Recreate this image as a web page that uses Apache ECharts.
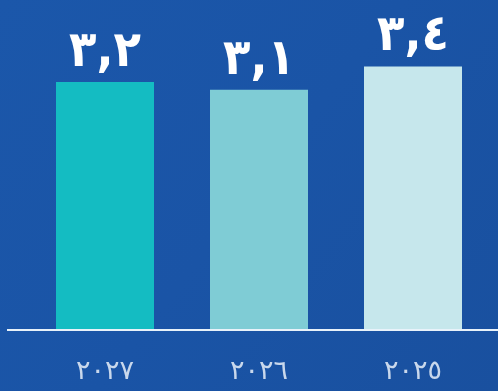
<!DOCTYPE html>
<html><head><meta charset="utf-8">
<script src="https://cdn.jsdelivr.net/npm/echarts@6/dist/echarts.min.js"></script>
<style>html,body{margin:0;padding:0;background:#1a53a5;}#c{width:498px;height:391px;}</style>
</head><body><div id="c"></div>
<script>
const categories = ['٢٠٢٧', '٢٠٢٦', '٢٠٢٥'];
const values = [3.2, 3.1, 3.4];
const valueLabels = ['٣,٢', '٣,١', '٣,٤'];
const barColors = ['#14bcc2', '#7fccd5', '#c6e7ec'];

const chart = echarts.init(document.getElementById('c'), null, {renderer: 'canvas'});
chart.setOption({
  backgroundColor: {
    type: 'linear', x: 0, y: 0, x2: 1, y2: 1,
    colorStops: [{offset: 0, color: '#1b57aa'}, {offset: 0.5, color: '#1a54a6'}, {offset: 1, color: '#19509f'}]
  },
  animation: false,
  grid: {left: 28, right: 8, top: 20, bottom: 61},
  xAxis: {
    type: 'category', data: categories,
    axisLine: {show: false}, axisTick: {show: false},
    axisLabel: {color: '#c9d8ec', fontSize: 27, fontFamily: 'DejaVu Sans', margin: 28}
  },
  yAxis: {type: 'value', min: 0, max: 4, show: false, splitLine: {show: false}},
  graphic: [{
    type: 'line', z: 10,
    shape: {x1: 7, y1: 330, x2: 498, y2: 330},
    style: {stroke: '#e8f2fa', lineWidth: 2}
  }],
  series: [{
    type: 'bar', barWidth: 98,
    data: values.map((v, i) => ({value: v, itemStyle: {color: barColors[i]}})),
    label: {
      show: true, position: 'top', distance: 4,
      formatter: p => valueLabels[p.dataIndex],
      color: '#ffffff', fontSize: 50, fontWeight: 'bold', fontFamily: 'DejaVu Sans Condensed'
    }
  }]
});
</script></body></html>
